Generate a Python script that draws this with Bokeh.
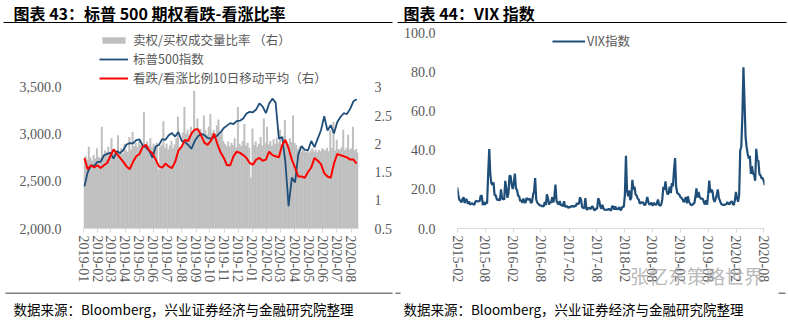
import math
import pandas as pd
from bokeh.plotting import figure
from bokeh.models import (LinearAxis, Range1d, Legend, LegendItem,
                          DatetimeTickFormatter, FixedTicker, NumeralTickFormatter)
from bokeh.core.properties import value
from bokeh.layouts import row, column
from bokeh.embed import file_html
from bokeh.resources import INLINE

# ---------------- data: chart 43 ----------------
spx_start = "2019-01-03"   # weekly points
spx = [2448, 2596, 2671, 2665, 2707, 2708, 2776, 2793, 2804, 2743, 2822, 2801, 2834,
       2893, 2907, 2905, 2940, 2946, 2881, 2860, 2826, 2752, 2873, 2887, 2950, 2942,
       2990, 3014, 2977, 3026, 2932, 2919, 2889, 2847, 2926, 2979, 3007, 2992, 2962,
       2952, 2970, 2986, 3023, 3067, 3093, 3120, 3110, 3141, 3146, 3169, 3221, 3240,
       3235, 3265, 3330, 3295, 3226, 3328, 3380, 3338, 2954, 2972, 2711, 2237, 2541,
       2489, 2790, 2875, 2837, 2831, 2930, 2864, 2955, 3044, 3194, 3041, 3098, 3009,
       3130, 3185, 3225, 3216, 3271, 3351, 3373]
ma10 = [1.75, 1.55, 1.62, 1.58, 1.62, 1.57, 1.62, 1.66, 1.78, 1.90, 1.82, 1.75, 1.68,
        1.60, 1.55, 1.68, 1.78, 1.82, 1.95, 1.98, 1.88, 1.83, 1.72, 1.60, 1.58, 1.65,
        1.60, 1.57, 1.68, 1.88, 1.95, 2.07, 2.05, 2.18, 2.25, 2.26, 2.15, 2.02, 1.98,
        2.05, 2.18, 2.00, 1.85, 1.75, 1.62, 1.62, 1.78, 1.86, 1.84, 1.80, 1.75, 1.66,
        1.63, 1.72, 1.75, 1.70, 1.72, 1.86, 1.80, 1.78, 1.76, 1.98, 2.07, 1.92, 1.72,
        1.58, 1.42, 1.42, 1.40, 1.50, 1.58, 1.75, 1.70, 1.64, 1.48, 1.42, 1.40, 1.65,
        1.82, 1.80, 1.78, 1.76, 1.72, 1.72, 1.65]
ratio_start = "2019-01-02"  # two points per week
pc_ratio = [1.74, 1.78, 1.72, 1.95, 1.76, 1.70, 1.80, 1.74, 1.92, 1.77,
            1.75, 2.30, 1.82, 1.88, 1.85, 1.95, 1.86, 2.10, 1.84, 1.90,
            1.87, 2.15, 1.85, 1.92, 1.83, 2.00, 1.88, 1.86, 2.12, 1.90,
            2.21, 1.96, 2.02, 1.95, 2.05, 1.98, 2.00, 2.56, 1.96, 2.04,
            1.97, 2.10, 1.94, 2.00, 1.92, 2.02, 1.55, 1.95, 1.98, 2.40,
            1.93, 2.00, 1.90, 1.97, 2.05, 1.92, 1.99, 2.10, 2.48, 1.95,
            1.96, 2.20, 2.65, 2.18, 2.25, 2.15, 2.30, 2.22, 2.94, 2.28,
            2.45, 2.20, 2.26, 2.18, 2.50, 2.24, 2.16, 2.30, 2.53, 2.20,
            2.25, 2.18, 2.33, 2.43, 2.15, 2.22, 2.05, 2.00, 1.96, 2.04,
            1.95, 2.02, 1.98, 2.10, 1.94, 2.65, 2.00, 1.96, 2.05, 2.35,
            1.97, 2.02, 1.93, 1.40, 2.27, 1.98, 2.04, 1.95, 2.00, 2.12,
            1.97, 2.45, 2.02, 2.30, 1.99, 2.05, 1.96, 2.08, 2.00, 2.10,
            2.02, 2.25, 1.98, 2.13, 2.42, 2.05, 2.00, 2.10, 2.03, 2.50,
            2.02, 1.98, 1.90, 1.95, 1.86, 1.92, 1.88, 1.85, 1.90, 1.84,
            1.88, 1.92, 1.86, 1.90, 1.85, 1.89, 1.87, 1.92, 1.90, 1.88,
            1.93, 1.87, 2.24, 1.92, 2.39, 1.88, 2.07, 1.91, 1.90, 1.94,
            2.25, 1.89, 1.93, 2.16, 1.90, 1.92, 2.30, 1.88, 1.91, 1.84]
left_ticks = ["2019-01", "2019-02", "2019-03", "2019-04", "2019-05", "2019-06", "2019-07",
              "2019-08", "2019-09", "2019-10", "2019-11", "2019-12", "2020-01", "2020-02",
              "2020-03", "2020-04", "2020-05", "2020-06", "2020-07", "2020-08"]
left_y_ticks = [2000, 2500, 3000, 3500]
right_y_ticks = [0.5, 1, 1.5, 2, 2.5, 3]

# ---------------- data: chart 44 ----------------
vix_start = "2015-01-30"   # weekly points
vix = [21.0,
       17.3, 14.7, 14.3, 13.3, 15.2, 16.0, 13.0, 15.1, 14.7, 12.6, 13.9, 12.3, 12.7, 12.9,
       12.4, 12.1, 13.8, 14.2, 13.8, 14.0, 14.0, 16.8, 16.8, 12.0, 13.7, 12.1, 13.4, 12.8,
       28.0, 40.7, 27.8, 23.2, 22.3, 23.6, 17.1, 17.1, 15.1, 14.5, 15.1, 14.3, 20.1, 15.5,
       15.1, 14.8, 24.4, 20.7, 15.7, 18.2,
       27.0, 27.0, 22.3, 20.2, 23.4, 28.1, 20.5, 19.8, 16.9, 16.5, 14.0, 14.7, 13.1, 15.4,
       13.6, 13.2, 15.7, 14.7, 15.0, 15.2, 13.1, 13.5, 17.0, 19.4, 25.8, 14.8, 13.2, 12.7,
       12.0, 11.9, 11.4, 11.6, 11.3, 13.6, 12.0, 17.5, 15.4, 12.3, 13.3, 13.5, 16.1, 13.3,
       16.2, 22.5, 14.2, 12.9, 12.3, 14.1, 11.8, 12.2, 11.4, 14.0,
       11.3, 11.2, 11.5, 10.6, 11.0, 10.9, 11.5, 11.5, 11.0, 11.7, 11.3, 13.0, 12.4, 12.9,
       16.0, 14.6, 10.8, 10.6, 10.4, 15.6, 9.8, 9.8, 10.7, 10.4, 10.0, 11.2, 11.2, 9.5,
       9.4, 10.3, 10.0, 15.5, 14.3, 11.3, 10.1, 12.1, 10.2, 9.6, 9.5, 9.7, 9.6, 10.0,
       9.8, 9.1, 11.3, 11.4, 9.7, 11.4, 9.6, 10.5, 9.9, 11.0,
       9.2, 10.2, 11.3, 11.1, 17.3, 37.3, 19.5, 16.5, 19.6, 14.6, 15.8, 24.9, 20.0, 21.5,
       17.4, 16.9, 15.4, 14.8, 12.7, 13.4, 13.2, 13.5, 12.2, 12.0, 13.8, 16.1, 13.4, 12.2,
       12.9, 13.0, 11.6, 13.2, 12.6, 12.0, 12.9, 14.9, 12.1, 11.7, 12.1, 14.8, 21.3, 19.9,
       24.2, 19.5, 17.4, 18.1, 21.5, 18.1, 23.2, 21.6, 30.1, 36.1,
       21.4, 18.2, 17.8, 17.4, 16.1, 15.7, 14.9, 13.5, 14.6, 16.1, 12.9, 16.5, 13.7, 12.8,
       12.0, 12.1, 12.7, 12.9, 16.0, 20.6, 15.9, 18.7, 16.3, 15.3, 15.4, 15.1, 13.3, 12.4,
       14.5, 12.2, 17.6, 24.6, 18.5, 19.9, 19.0, 15.0, 13.7, 15.3, 17.2, 20.0, 15.6, 14.3,
       12.7, 12.3, 12.1, 12.1, 12.3, 12.6, 13.6, 12.6, 12.5, 13.4,
       14.0, 12.6, 12.1, 14.6, 18.8, 15.5, 13.7, 17.1, 40.1, 41.9, 57.8, 82.7, 65.5, 46.8,
       41.7, 38.2, 35.9, 37.2, 28.0, 31.9, 28.2, 27.5, 24.5, 40.8, 35.1, 34.7, 27.7, 27.3,
       25.7, 25.8, 24.5, 22.2]
vix_ticks = ["2015-02", "2015-08", "2016-02", "2016-08", "2017-02", "2017-08", "2018-02",
             "2018-08", "2019-02", "2019-08", "2020-02", "2020-08"]
vix_y_ticks = [0, 20, 40, 60, 80, 100]

titles = ["图表 43：标普 500 期权看跌-看涨比率", "图表 44：VIX 指数"]
source = "数据来源：Bloomberg，兴业证券经济与金融研究院整理"
lab_bar = "卖权/买权成交量比率 （右）"
lab_spx = "标普500指数"
lab_ma = "看跌/看涨比例10日移动平均（右）"
lab_vix = "VIX指数"
watermark = "张忆东策略世界"

# ---------------- helpers ----------------
def ms(s):
    return pd.Timestamp(s).value // 10**6

CJK = "Noto Sans CJK SC"
NUM = "Liberation Serif"
GRAY = "#595959"
BLUE = "#1F4E79"
AXIS = "#D9D9D9"
W = 788
H_HEAD, H_MAIN, H_FOOT = 24, 268, 29
FR_TOP, FR_BOT = 5, 60            # frame borders inside the main figures
FRAME_H = H_MAIN - FR_TOP - FR_BOT
# left chart: the ticked span (2000..3500 / 0.5..3) fills the lower 144 px of the frame
stretch1 = FRAME_H / 144
# right chart: the ticked span 0..100 leaves 4 px free at the top of the frame
stretch2 = FRAME_H / (FRAME_H - 4)

spx_dates = pd.date_range(spx_start, periods=len(spx), freq="7D")
ratio_dates = pd.date_range(ratio_start, periods=len(pc_ratio), freq="84h")
vix_dates = pd.date_range(vix_start, periods=len(vix), freq="7D")


def style_x(ax, ticks):
    ax.ticker = FixedTicker(ticks=[ms(t + "-01") for t in ticks])
    ax.formatter = DatetimeTickFormatter(days="%Y-%m", months="%Y-%m", years="%Y-%m")
    ax.major_label_orientation = -math.pi / 2
    ax.axis_line_color = AXIS
    ax.major_tick_line_color = AXIS
    ax.major_tick_out = 4
    ax.major_tick_in = 0
    ax.minor_tick_line_color = None
    ax.major_label_standoff = 3
    ax.major_label_text_font = NUM
    ax.major_label_text_font_size = "14px"
    ax.major_label_text_color = GRAY


def style_y(ax, standoff):
    ax.axis_line_color = None
    ax.major_tick_line_color = None
    ax.minor_tick_line_color = None
    ax.major_label_standoff = standoff
    ax.major_label_text_font = NUM
    ax.major_label_text_font_size = "14px"
    ax.major_label_text_color = GRAY


def blank_fig(h):
    f = figure(width=W, height=h, output_backend="svg", toolbar_location=None,
               x_range=Range1d(0, W), y_range=Range1d(h, 0),
               x_axis_location=None, y_axis_location=None,
               min_border=0, min_border_left=0, min_border_right=0,
               min_border_top=0, min_border_bottom=0)
    f.outline_line_color = None
    f.xgrid.visible = False
    f.ygrid.visible = False
    return f


# ---------------- header (titles + rules) ----------------
head = blank_fig(H_HEAD)
head.text(x=[13, 403], y=[12, 12], text=titles, text_font=value(CJK),
          text_font_style="bold", text_font_size="16px", text_baseline="middle",
          text_color="black")
head.segment(x0=[3, 397], y0=[22, 22], x1=[392, 786], y1=[22, 22],
             line_color="black", line_width=1)

# ---------------- chart 43 ----------------
p1 = figure(width=395, height=H_MAIN, x_axis_type="datetime", output_backend="svg",
            toolbar_location=None,
            x_range=Range1d(ms("2019-01-01"), ms("2020-08-17")),
            y_range=Range1d(2000, 2000 + 1500 * stretch1),
            min_border_left=83, min_border_right=37,
            min_border_top=FR_TOP, min_border_bottom=FR_BOT)
p1.extra_y_ranges = {"r": Range1d(0.5, 0.5 + 2.5 * stretch1)}
p1.outline_line_color = None
p1.xgrid.visible = False
p1.ygrid.visible = False

style_x(p1.xaxis[0], left_ticks)
p1.yaxis[0].ticker = FixedTicker(ticks=left_y_ticks)
p1.yaxis[0].formatter = NumeralTickFormatter(format="0,0.0")
style_y(p1.yaxis[0], 16)
ax_r = LinearAxis(y_range_name="r", ticker=FixedTicker(ticks=right_y_ticks),
                  formatter=NumeralTickFormatter(format="0.[0]"))
style_y(ax_r, 10)
p1.add_layout(ax_r, "right")

bars = p1.vbar(x=ratio_dates, top=pc_ratio, bottom=0.5, width=4.3 * 86400000,
               y_range_name="r", fill_color="#BFBFBF", line_color=None)
l_spx = p1.line(spx_dates, spx, line_color=BLUE, line_width=1.8)
l_ma = p1.line(spx_dates, ma10, y_range_name="r", line_color="#FF0000", line_width=2)

leg1 = Legend(items=[LegendItem(label=lab_bar, renderers=[bars]),
                     LegendItem(label=lab_spx, renderers=[l_spx]),
                     LegendItem(label=lab_ma, renderers=[l_ma])],
              location=(16, 141), orientation="vertical",
              glyph_width=29, glyph_height=8, label_height=12, spacing=0,
              label_standoff=5, padding=0, margin=0,
              label_text_font=CJK, label_text_font_size="12.5px", label_text_color=GRAY,
              border_line_color=None, background_fill_alpha=0)
p1.add_layout(leg1)

# ---------------- chart 44 ----------------
p2 = figure(width=393, height=H_MAIN, x_axis_type="datetime", output_backend="svg",
            toolbar_location=None,
            x_range=Range1d(ms("2015-02-01"), ms("2020-08-05")),
            y_range=Range1d(0, 100 * stretch2),
            min_border_left=62, min_border_right=24,
            min_border_top=FR_TOP, min_border_bottom=FR_BOT)
p2.outline_line_color = None
p2.xgrid.visible = False
p2.ygrid.visible = False
style_x(p2.xaxis[0], vix_ticks)
p2.yaxis[0].ticker = FixedTicker(ticks=vix_y_ticks)
p2.yaxis[0].formatter = NumeralTickFormatter(format="0.0")
style_y(p2.yaxis[0], 16)
# watermark sits over the date labels, drawn as the axis label
p2.xaxis[0].axis_label = "\u3000" * 9 + watermark
p2.xaxis[0].axis_label_text_font = CJK
p2.xaxis[0].axis_label_text_font_style = "normal"
p2.xaxis[0].axis_label_text_font_size = "19px"
p2.xaxis[0].axis_label_text_color = "#a6a6a6"
p2.xaxis[0].axis_label_text_alpha = 0.8
p2.xaxis[0].axis_label_standoff = -23

l_vix = p2.line(vix_dates, vix, line_color=BLUE, line_width=2.2)
leg2 = Legend(items=[LegendItem(label=lab_vix, renderers=[l_vix])],
              location=(95, 178), orientation="vertical",
              glyph_width=33, glyph_height=8, label_height=12, spacing=0,
              label_standoff=2, padding=0, margin=0,
              label_text_font=CJK, label_text_font_size="12.5px", label_text_color=GRAY,
              border_line_color=None, background_fill_alpha=0)
p2.add_layout(leg2)

# ---------------- footer (sources + rules) ----------------
foot = blank_fig(H_FOOT)
foot.text(x=[13, 403], y=[16, 16], text=[source, source], text_font=value(CJK),
          text_font_size="13.5px", text_baseline="middle", text_color="black")
foot.segment(x0=[5, 395, 778], y0=[0.5, 0.5, 0.5], x1=[392, 400, 785], y1=[0.5, 0.5, 0.5],
             line_color="black", line_width=1)

layout = column(head, row(p1, p2), foot)
open("out.html", "w").write(file_html(layout, INLINE))
